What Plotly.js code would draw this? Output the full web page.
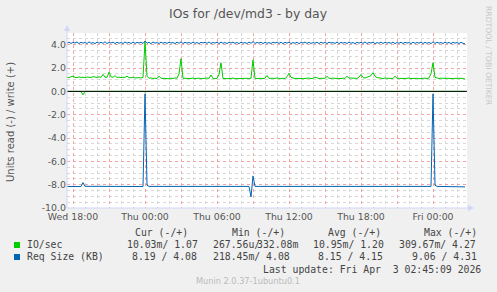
<!DOCTYPE html>
<html>
<head>
<meta charset="utf-8">
<script src="https://cdn.plot.ly/plotly-3.0.1.min.js"></script>
<style>html,body{margin:0;padding:0;background:#F0F0F0;}#chart{width:497px;height:292px;}</style>
</head>
<body>
<div id="chart"></div>
<script>
// ---- data ----
const startTime = '2026-04-01T17:30:00';
const stepMinutes = 10;

// IO/sec, write (+), one value every 10 minutes
const ioWrite = [
 1.22,1.18,1.25,1.30,1.20,1.17,1.24,1.19,1.21,1.16,
 1.23,1.20,1.18,1.26,1.21,1.19,1.24,1.20,1.45,1.22,
 1.19,1.65,1.24,1.20,1.35,1.18,1.22,1.17,1.21,1.19,
 1.30,1.18,1.16,1.21,1.15,1.19,1.17,1.14,1.20,4.27,
 1.30,1.12,1.15,1.10,1.13,1.09,1.30,1.12,1.10,1.14,
 1.11,1.08,1.13,1.10,1.15,1.12,1.50,2.80,1.12,1.10,
 1.08,1.12,1.10,1.14,1.09,1.11,1.13,1.08,1.12,1.10,
 1.14,1.11,1.40,1.09,1.12,1.10,1.45,2.45,1.10,1.08,
 1.12,1.09,1.11,1.14,1.08,1.10,1.13,1.09,1.11,1.12,
 1.08,1.10,1.13,2.70,1.10,1.12,1.08,1.11,1.09,1.13,
 1.35,1.10,1.12,1.09,1.11,1.14,1.10,1.08,1.12,1.10,
 1.25,1.55,1.20,1.12,1.09,1.11,1.13,1.10,1.08,1.12,
 1.10,1.14,1.09,1.11,1.22,1.13,1.10,1.12,1.09,1.11,
 1.28,1.12,1.10,1.14,1.11,1.09,1.12,1.10,1.13,1.11,
 1.30,1.12,1.14,1.10,1.12,1.11,1.20,1.45,1.18,1.14,
 1.20,1.28,1.35,1.60,1.30,1.18,1.14,1.12,1.10,1.13,
 1.11,1.09,1.12,1.10,1.30,1.12,1.11,1.09,1.13,1.10,
 1.12,1.14,1.09,1.11,1.10,1.12,1.08,1.11,1.10,1.13,
 1.09,1.15,1.50,2.45,1.20,1.12,1.10,1.13,1.09,1.11,
 1.12,1.10,1.14,1.09,1.11,1.13,1.10,1.12,1.09,1.07
];

// Req Size (KB), write (+), one value every 10 minutes
const reqWrite = [
 4.12,4.22,4.10,4.20,4.14,4.23,4.09,4.21,4.13,4.19,
 4.10,4.24,4.12,4.18,4.09,4.22,4.13,4.20,4.11,4.25,
 4.10,4.19,4.14,4.22,4.09,4.21,4.12,4.18,4.10,4.23,
 4.13,4.20,4.09,4.22,4.11,4.19,4.14,4.21,4.10,4.31,
 4.12,4.20,4.09,4.23,4.13,4.18,4.10,4.22,4.12,4.19,
 4.11,4.21,4.14,4.18,4.09,4.22,4.12,4.24,4.10,4.20,
 4.13,4.19,4.10,4.22,4.12,4.18,4.09,4.21,4.14,4.20,
 4.11,4.23,4.10,4.19,4.13,4.21,4.09,4.22,4.12,4.18,
 4.10,4.20,4.14,4.22,4.11,4.19,4.09,4.21,4.13,4.18,
 4.10,4.22,4.12,4.26,4.11,4.19,4.13,4.21,4.09,4.20,
 4.12,4.18,4.10,4.22,4.14,4.19,4.11,4.21,4.09,4.20,
 4.13,4.22,4.10,4.18,4.12,4.21,4.09,4.19,4.14,4.22,
 4.11,4.20,4.10,4.18,4.13,4.21,4.09,4.22,4.12,4.19,
 4.10,4.21,4.14,4.18,4.11,4.22,4.09,4.20,4.13,4.19,
 4.10,4.22,4.12,4.18,4.09,4.21,4.13,4.20,4.11,4.23,
 4.10,4.19,4.14,4.21,4.09,4.18,4.12,4.22,4.10,4.20,
 4.13,4.19,4.11,4.22,4.09,4.18,4.12,4.21,4.10,4.20,
 4.14,4.18,4.09,4.22,4.11,4.19,4.13,4.21,4.10,4.20,
 4.12,4.19,4.09,4.24,4.11,4.20,4.13,4.18,4.10,4.22,
 4.12,4.19,4.09,4.21,4.13,4.18,4.10,4.20,4.12,4.08
];

// IO/sec, read (-), sparse
const ioReadTimes = ['2026-04-01 17:30','2026-04-01 18:40','2026-04-01 18:50','2026-04-01 19:00',
  '2026-04-01 23:50','2026-04-02 00:00','2026-04-02 00:10','2026-04-02 08:50','2026-04-02 09:00',
  '2026-04-02 09:10','2026-04-02 23:50','2026-04-03 00:00','2026-04-03 00:10','2026-04-03 02:40'];
const ioRead = [-0.01,-0.01,-0.31,-0.01,-0.01,-0.06,-0.01,-0.01,-0.06,-0.01,-0.01,-0.06,-0.01,-0.01];

// Req Size (KB), read (-), sparse
const reqReadTimes = ['2026-04-01 17:30','2026-04-01 18:40','2026-04-01 18:50','2026-04-01 19:00',
  '2026-04-01 23:50','2026-04-02 00:00','2026-04-02 00:10','2026-04-02 00:20','2026-04-02 08:40',
  '2026-04-02 08:50','2026-04-02 09:00','2026-04-02 09:10','2026-04-02 23:50','2026-04-03 00:00',
  '2026-04-03 00:10','2026-04-03 00:20','2026-04-03 02:40'];
const reqRead = [-8.16,-8.16,-7.82,-8.14,-8.16,-0.22,-8.05,-8.15,-8.15,-9.06,-7.25,-8.15,-8.15,-0.22,-8.05,-8.15,-8.19];

const xTickVals = ['2026-04-01 18:00','2026-04-01 21:00','2026-04-02 00:00','2026-04-02 03:00',
  '2026-04-02 06:00','2026-04-02 09:00','2026-04-02 12:00','2026-04-02 15:00','2026-04-02 18:00',
  '2026-04-02 21:00','2026-04-03 00:00'];
const xTickText = ['Wed 18:00','','Thu 00:00','','Thu 06:00','','Thu 12:00','','Thu 18:00','','Fri 00:00'];
const yTickVals = [-10,-8,-6,-4,-2,0,2,4];
const yTickText = ['-10.0','-8.0','-6.0','-4.0','-2.0','0.0','2.0','4.0'];

const legendHeader = ['Cur (-/+)','Min (-/+)','Avg (-/+)','Max (-/+)'];
const legendNames = ['IO/sec','Req Size (KB)'];
const ioStats = ['10.03m/ 1.07','267.56u/','332.08m','10.95m/ 1.20','309.67m/ 4.27'];
const reqStats = ['8.19 / 4.08','218.45m/ 4.08','8.15 / 4.15','9.06 / 4.31'];
const lastUpdate = 'Last update: Fri Apr\u00a0\u00a03 02:45:09 2026';

// ---- build ----
function pad(n){return (n<10?'0':'')+n;}
function timesFor(n){
  const base = Date.parse(startTime+'Z');
  const out = [];
  for(let i=0;i<n;i++){
    const d = new Date(base + i*stepMinutes*60000);
    out.push(d.getUTCFullYear()+'-'+pad(d.getUTCMonth()+1)+'-'+pad(d.getUTCDate())+' '+pad(d.getUTCHours())+':'+pad(d.getUTCMinutes()));
  }
  return out;
}
const tDense = timesFor(ioWrite.length);

const GREEN = '#00CC00', BLUE = '#0066B3';
const L=67, R=467, T=33, B=208;
const X = px => (px-L)/(R-L);
const Y = py => (B-py)/(B-T);

const traces = [
  {x: ioReadTimes, y: ioRead, type:'scatter', mode:'lines', line:{color:GREEN,width:1}, hoverinfo:'skip'},
  {x: tDense, y: ioWrite, type:'scatter', mode:'lines', line:{color:GREEN,width:1}, hoverinfo:'skip'},
  {x: reqReadTimes, y: reqRead, type:'scatter', mode:'lines', line:{color:BLUE,width:1}, hoverinfo:'skip'},
  {x: tDense, y: reqWrite, type:'scatter', mode:'lines', line:{color:BLUE,width:1}, hoverinfo:'skip'}
];

const mono = {family:'DejaVu Sans Mono', size:9.8, color:'#444'};
const ann = [];
function txt(text, px, py, font, extra){
  ann.push(Object.assign({text:text, x:X(px), y:Y(py), xref:'paper', yref:'paper',
    xanchor:'left', yanchor:'middle', showarrow:false, font:font, borderpad:0}, extra||{}));
}
// title
txt('IOs for /dev/md3 - by day', 248, 13.5, {family:'DejaVu Sans', size:12.4, color:'#555'}, {xanchor:'center'});
// y title
txt('Units read (-) / write (+)', 10, 122, {family:'DejaVu Sans', size:10, color:'#555'}, {xanchor:'center', textangle:-90});
// rrdtool credit
txt('RRDTOOL / TOBI OETIKER', 489, 56, {family:'DejaVu Sans', size:7.7, color:'#c8c8c8'}, {xanchor:'center', textangle:90});
// munin version
txt('Munin 2.0.37-1ubuntu0.1', 248, 281, {family:'DejaVu Sans', size:8.2, color:'#bbbbbb'}, {xanchor:'center'});
// legend header
const hx = [134.3, 230.7, 327.3, 423];
legendHeader.forEach((h,i)=>txt(h.replace(/ /g,'\u00a0'), hx[i], 232.7, mono));
// rows
txt(legendNames[0], 26, 244.3, mono);
txt(legendNames[1].replace(/ /g,'\u00a0'), 26, 256.7, mono);
const r1x = [125.7, 212, 256.2, 312.3, 398];
ioStats.forEach((s,i)=>txt(s.replace(/ /g,'\u00a0'), r1x[i], 244.3, mono));
const r2x = [130.7, 212, 317.3, 410.7];
reqStats.forEach((s,i)=>txt(s.replace(/ /g,'\u00a0'), r2x[i], 256.7, mono));
txt(lastUpdate.replace(/ /g,'\u00a0'), 261.7, 269, mono);

const AX = '#CFD6F8';
const shapes = [
  {type:'rect', xref:'paper', yref:'paper', x0:X(14), x1:X(20), y0:Y(248), y1:Y(242), fillcolor:GREEN, line:{width:0}},
  {type:'rect', xref:'paper', yref:'paper', x0:X(14), x1:X(20), y0:Y(260), y1:Y(254), fillcolor:BLUE, line:{width:0}},
  {type:'line', xref:'paper', yref:'y', x0:0, x1:1, y0:0, y1:0, line:{color:'#000', width:1}, layer:'above'},
  {type:'path', xref:'paper', yref:'paper', path:`M ${X(64)} ${Y(31)} L ${X(70)} ${Y(31)} L ${X(67)} ${Y(25)} Z`, fillcolor:AX, line:{width:0}},
  {type:'path', xref:'paper', yref:'paper', path:`M ${X(468)} ${Y(205)} L ${X(468)} ${Y(211)} L ${X(474)} ${Y(208)} Z`, fillcolor:AX, line:{width:0}},
  {type:'line', xref:'paper', yref:'paper', x0:X(67), x1:X(67), y0:Y(208), y1:Y(31), line:{color:AX, width:1}},
  {type:'line', xref:'paper', yref:'paper', x0:X(67), x1:X(468), y0:Y(208), y1:Y(208), line:{color:AX, width:1}}
];

const layout = {
  width:497, height:292,
  margin:{l:L, r:497-R, t:T, b:292-B, pad:0},
  paper_bgcolor:'#F0F0F0', plot_bgcolor:'#FFFFFF',
  showlegend:false,
  font:{family:'DejaVu Sans', size:9.4, color:'#555'},
  xaxis:{
    type:'date', range:['2026-04-01 17:30','2026-04-03 02:50'],
    tickmode:'array', tickvals:xTickVals, ticktext:xTickText,
    showgrid:true, gridcolor:'#f4a4a4', griddash:'dot', gridwidth:1,
    minor:{tick0:'2026-04-01 18:00', dtick:3600000, showgrid:true, gridcolor:'#d8d8d8', griddash:'dot', gridwidth:1},
    showline:false, zeroline:false, ticks:'', ticklabelstandoff:2,
    tickfont:{family:'DejaVu Sans', size:9.4, color:'#555'}, fixedrange:true
  },
  yaxis:{
    range:[-10,5], tickmode:'array', tickvals:yTickVals, ticktext:yTickText,
    showgrid:true, gridcolor:'#f4a4a4', griddash:'dot', gridwidth:1,
    minor:{dtick:0.5, tick0:0, showgrid:true, gridcolor:'#d8d8d8', griddash:'dot', gridwidth:1},
    showline:false, zeroline:false, ticks:'', tickfont:{family:'DejaVu Sans', size:9.4, color:'#555'}, fixedrange:true
  },
  annotations: ann,
  shapes: shapes
};

Plotly.newPlot('chart', traces, layout, {staticPlot:true, displayModeBar:false});
</script>
</body>
</html>
